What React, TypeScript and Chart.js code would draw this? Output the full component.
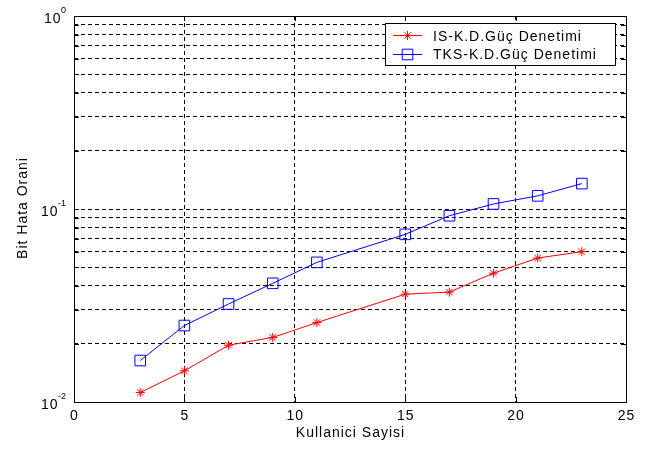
import React, { useEffect, useRef } from "react";
import { Chart, registerables } from "chart.js";

Chart.register(...registerables);

const users = [3, 5, 7, 9, 11, 15, 17, 19, 21, 23];
const isBer = [0.0112, 0.0145, 0.0197, 0.0216, 0.0258, 0.0362, 0.0371, 0.0465, 0.0557, 0.0601];
const tksBer = [0.0164, 0.0249, 0.0322, 0.0412, 0.0529, 0.0739, 0.0923, 0.1062, 0.117, 0.1354];
const seriesNames = ["IS-K.D.Güç Denetimi", "TKS-K.D.Güç Denetimi"];
const seriesColors = ["#ff0000", "#0000ff"];
const xTicks = [0, 5, 10, 15, 20, 25];
const yGrid = [
  0.01, 0.02, 0.03, 0.04, 0.05, 0.06, 0.07, 0.08, 0.09,
  0.1, 0.2, 0.3, 0.4, 0.5, 0.6, 0.7, 0.8, 0.9, 1,
];
const yMajor = [0.01, 0.1, 1];
const yMajorBase = ["10", "10", "10"];
const yMajorExp = ["-2", "-1", "0"];
const xTitle = "Kullanici Sayisi";
const yTitle = "Bit Hata Orani";

const FONT = '"Liberation Sans", Arial, sans-serif';

const decorPlugin = {
  id: "matlabDecor",
  afterDatasetsDraw(chart: any) {
    const ctx = chart.ctx as CanvasRenderingContext2D;
    const { left, top, right, bottom } = chart.chartArea;
    const xs = chart.scales.x;
    const ys = chart.scales.y;
    ctx.save();
    ctx.strokeStyle = "#000";
    ctx.lineWidth = 1;
    ctx.setLineDash([]);
    ctx.strokeRect(left + 0.5, top + 0.5, right - left, bottom - top);
    ctx.beginPath();
    for (const v of xTicks) {
      const px = Math.round(xs.getPixelForValue(v)) + 0.5;
      ctx.moveTo(px, bottom);
      ctx.lineTo(px, bottom - 5);
      ctx.moveTo(px, top);
      ctx.lineTo(px, top + 5);
    }
    for (const v of yGrid) {
      const py = Math.round(ys.getPixelForValue(v)) + 0.5;
      ctx.moveTo(left, py);
      ctx.lineTo(left + 5, py);
      ctx.moveTo(right, py);
      ctx.lineTo(right - 5, py);
    }
    ctx.stroke();
    ctx.restore();
  },
  afterDraw(chart: any) {
    const ctx = chart.ctx as CanvasRenderingContext2D;
    const { left, top, right, bottom } = chart.chartArea;
    const xs = chart.scales.x;
    const ys = chart.scales.y;
    ctx.save();
    ctx.fillStyle = "#000";
    (ctx as any).letterSpacing = "1px";
    // x tick labels
    ctx.font = `14px ${FONT}`;
    ctx.textAlign = "center";
    ctx.textBaseline = "alphabetic";
    for (const v of xTicks) {
      ctx.fillText(String(v), xs.getPixelForValue(v) + 0.5, bottom + 18);
    }
    // y tick labels with superscript exponents
    const labelRight = left - 8;
    for (let i = 0; i < yMajor.length; i++) {
      const py = ys.getPixelForValue(yMajor[i]);
      ctx.font = `9px ${FONT}`;
      ctx.textAlign = "right";
      (ctx as any).letterSpacing = "0px";
      const expW = ctx.measureText(yMajorExp[i]).width;
      ctx.fillText(yMajorExp[i], labelRight, py - 3);
      ctx.font = `14px ${FONT}`;
      (ctx as any).letterSpacing = "1px";
      ctx.fillText(yMajorBase[i], labelRight - expW + 0.5, py + 6.5);
    }
    // axis titles
    ctx.font = `14px ${FONT}`;
    ctx.textAlign = "center";
    ctx.fillText(xTitle, (left + right) / 2 + 0.5, 437);
    ctx.save();
    ctx.translate(27, (top + bottom) / 2 - 1);
    ctx.rotate(-Math.PI / 2);
    ctx.fillText(yTitle, 0, 0);
    ctx.restore();

    // legend
    const lx = 385, ly = 23, lw = 230, lh = 42;
    ctx.setLineDash([]);
    ctx.fillStyle = "#fff";
    ctx.fillRect(lx, ly, lw, lh);
    ctx.strokeStyle = "#000";
    ctx.lineWidth = 1;
    ctx.strokeRect(lx + 0.5, ly + 0.5, lw, lh);
    const rows = [35, 53.5];
    for (let i = 0; i < seriesNames.length; i++) {
      const y = rows[i];
      const ds = chart.data.datasets[i];
      ctx.strokeStyle = seriesColors[i];
      ctx.beginPath();
      ctx.moveTo(393, Math.round(y) + 0.5);
      ctx.lineTo(422, Math.round(y) + 0.5);
      ctx.stroke();
      ctx.lineWidth = 1;
      (Chart as any).helpers
        ? null
        : null;
      drawMarker(ctx, ds.pointStyle, ds.pointRadius, 407.5, Math.round(y) + 0.5, seriesColors[i]);
      ctx.fillStyle = "#000";
      ctx.font = `14px ${FONT}`;
      ctx.textAlign = "left";
      ctx.textBaseline = "alphabetic";
      (ctx as any).letterSpacing = "1px";
      ctx.fillText(seriesNames[i], 433, y + 5.5);
    }
    ctx.restore();
  },
};

function drawMarker(ctx: CanvasRenderingContext2D, style: string, r: number, x: number, y: number, color: string) {
  ctx.save();
  ctx.strokeStyle = color;
  ctx.lineWidth = 1;
  ctx.beginPath();
  if (style === "rect") {
    const s = Math.SQRT1_2 * r;
    ctx.rect(x - s, y - s, 2 * s, 2 * s);
  } else {
    ctx.moveTo(x - r, y);
    ctx.lineTo(x + r, y);
    ctx.moveTo(x, y - r);
    ctx.lineTo(x, y + r);
    const d = r * Math.SQRT1_2;
    ctx.moveTo(x - d, y - d);
    ctx.lineTo(x + d, y + d);
    ctx.moveTo(x - d, y + d);
    ctx.lineTo(x + d, y - d);
  }
  ctx.stroke();
  ctx.restore();
}

export default function App() {
  const ref = useRef<HTMLCanvasElement>(null);
  useEffect(() => {
    if (!ref.current) return;
    const gridOpts = { color: "#000", lineWidth: 1, drawTicks: false };
    const chart = new Chart(ref.current, {
      type: "line",
      data: {
        datasets: [
          {
            label: seriesNames[0],
            data: users.map((u, i) => ({ x: u, y: isBer[i] })),
            borderColor: seriesColors[0],
            backgroundColor: "transparent",
            borderWidth: 1,
            pointStyle: "star",
            pointRadius: 4.5,
            pointBorderColor: seriesColors[0],
            pointBorderWidth: 1,
            tension: 0,
          },
          {
            label: seriesNames[1],
            data: users.map((u, i) => ({ x: u, y: tksBer[i] })),
            borderColor: seriesColors[1],
            backgroundColor: "transparent",
            borderWidth: 1,
            pointStyle: "rect",
            pointRadius: 7.5,
            pointBorderColor: seriesColors[1],
            pointBackgroundColor: "transparent",
            pointBorderWidth: 1,
            tension: 0,
          },
        ],
      },
      options: {
        animation: false,
        responsive: false,
        devicePixelRatio: 1,
        layout: { padding: { left: 0, top: 16, right: 32, bottom: 0 } },
        plugins: { legend: { display: false }, tooltip: { enabled: false } },
        scales: {
          x: {
            type: "linear",
            min: 0,
            max: 25,
            afterBuildTicks: (s: any) => {
              s.ticks = xTicks.map((v) => ({ value: v }));
            },
            afterFit: (s: any) => {
              s.height = 48;
            },
            ticks: { display: false },
            grid: gridOpts,
            border: { display: false, dash: [4, 3] },
          },
          y: {
            type: "logarithmic",
            min: 0.01,
            max: 1,
            afterBuildTicks: (s: any) => {
              s.ticks = yGrid.map((v) => ({ value: v }));
            },
            afterFit: (s: any) => {
              s.width = 74;
            },
            ticks: { display: false },
            grid: gridOpts,
            border: { display: false, dash: [4, 3] },
          },
        },
      },
      plugins: [decorPlugin],
    } as any);
    return () => chart.destroy();
  }, []);
  return (
    <div style={{ position: "fixed", left: 0, top: 0, width: 658, height: 450, background: "#fff" }}>
      <canvas ref={ref} width={658} height={450} style={{ width: 658, height: 450, display: "block" }} />
    </div>
  );
}
